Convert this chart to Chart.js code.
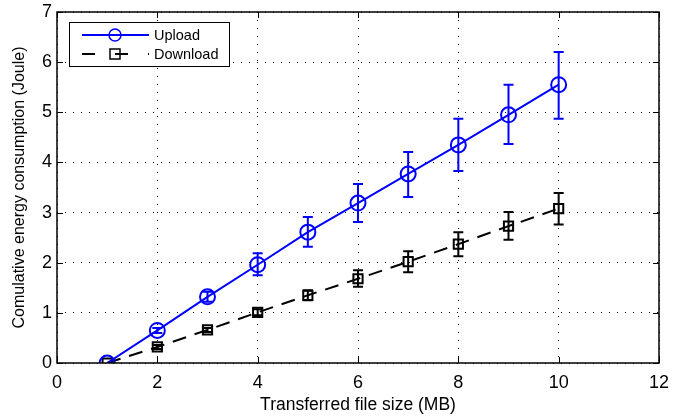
<!DOCTYPE html>
<html>
<head>
<meta charset="utf-8">
<script src="https://cdn.jsdelivr.net/npm/chart.js@4.4.1/dist/chart.umd.min.js"></script>
<style>
  body { margin: 0; background: #fff; }
  #wrap { width: 684px; height: 416px; }
</style>
</head>
<body>
<div id="wrap"><canvas id="myChart" width="684" height="416"></canvas></div>
<script>
// Data
const fileSizes = [1, 2, 3, 4, 5, 6, 7, 8, 9, 10];
const uploadMean = [0, 0.65, 1.32, 1.96, 2.61, 3.19, 3.77, 4.35, 4.95, 5.55];
const uploadLow  = [0, 0.60, 1.22, 1.75, 2.32, 2.81, 3.31, 3.83, 4.37, 4.87];
const uploadHigh = [0, 0.70, 1.42, 2.19, 2.91, 3.57, 4.21, 4.87, 5.55, 6.20];
const downloadMean = [0, 0.32, 0.66, 1.01, 1.35, 1.68, 2.02, 2.37, 2.73, 3.08];
const downloadLow  = [0, 0.28, 0.62, 0.95, 1.25, 1.52, 1.81, 2.13, 2.46, 2.76];
const downloadHigh = [0, 0.36, 0.70, 1.07, 1.45, 1.85, 2.23, 2.61, 3.01, 3.39];
const xTicks = [0, 2, 4, 6, 8, 10, 12];
const yTicks = [0, 1, 2, 3, 4, 5, 6, 7];

const FONT = 'Liberation Sans, Arial, Helvetica, sans-serif';
const DOWN_DASH = [14, 9];

function toPoints(ys) {
    return fileSizes.map((x, i) => ({ x: x, y: ys[i] }));
}

// Error bars, box, inward ticks and legend in MATLAB style
const matlabStyle = {
    id: 'matlabStyle',
    afterDatasetsDraw(chart) {
        const ctx = chart.ctx;
        const xs = chart.scales.x;
        const ys = chart.scales.y;
        const area = chart.chartArea;

        // error bars
        const bars = [
            { low: uploadLow, high: uploadHigh, color: '#0000ff' },
            { low: downloadLow, high: downloadHigh, color: '#000000' }
        ];
        ctx.save();
        ctx.lineWidth = 2;
        bars.forEach(b => {
            ctx.strokeStyle = b.color;
            fileSizes.forEach((x, i) => {
                const px = xs.getPixelForValue(x);
                const top = ys.getPixelForValue(b.high[i]);
                const bot = ys.getPixelForValue(b.low[i]);
                if (bot - top < 1) return;
                ctx.beginPath();
                ctx.moveTo(px, top); ctx.lineTo(px, bot);
                ctx.moveTo(px - 5, top); ctx.lineTo(px + 5, top);
                ctx.moveTo(px - 5, bot); ctx.lineTo(px + 5, bot);
                ctx.stroke();
            });
        });
        ctx.restore();

        // box and inward ticks
        ctx.save();
        ctx.strokeStyle = '#000';
        ctx.lineWidth = 1.5;
        ctx.strokeRect(area.left, area.top, area.right - area.left, area.bottom - area.top);
        ctx.lineWidth = 1;
        ctx.beginPath();
        xTicks.forEach(v => {
            const px = Math.round(xs.getPixelForValue(v)) + 0.5;
            ctx.moveTo(px, area.bottom); ctx.lineTo(px, area.bottom - 6);
            ctx.moveTo(px, area.top); ctx.lineTo(px, area.top + 6);
        });
        yTicks.forEach(v => {
            const py = Math.round(ys.getPixelForValue(v)) + 0.5;
            ctx.moveTo(area.left, py); ctx.lineTo(area.left + 6, py);
            ctx.moveTo(area.right, py); ctx.lineTo(area.right - 6, py);
        });
        ctx.stroke();

        // legend box
        const lx = area.left + 12, ly = area.top + 10, lw = 160, lh = 44;
        ctx.fillStyle = '#fff';
        ctx.fillRect(lx, ly, lw, lh);
        ctx.lineWidth = 1;
        ctx.strokeRect(lx + 0.5, ly + 0.5, lw, lh);

        const entries = [
            { text: 'Upload', color: '#0000ff', dash: [], marker: 'circle' },
            { text: 'Download', color: '#000000', dash: [13, 20], marker: 'square' }
        ];
        entries.forEach((e, i) => {
            const cy = ly + 13 + i * 19;
            ctx.strokeStyle = e.color;
            ctx.lineWidth = 2;
            ctx.setLineDash(e.dash);
            ctx.beginPath();
            ctx.moveTo(lx + 13, cy); ctx.lineTo(lx + 80, cy);
            ctx.stroke();
            ctx.setLineDash([]);
            ctx.lineWidth = 1.5;
            ctx.beginPath();
            if (e.marker === 'circle') {
                ctx.arc(lx + 46, cy, 6, 0, Math.PI * 2);
            } else {
                ctx.rect(lx + 41, cy - 5, 10, 10);
            }
            ctx.stroke();
            ctx.fillStyle = '#000';
            ctx.font = '14.5px ' + FONT;
            ctx.textBaseline = 'middle';
            ctx.textAlign = 'left';
            ctx.fillText(e.text, lx + 85, cy + 1);
        });
        ctx.restore();
    }
};

const ctx = document.getElementById('myChart').getContext('2d');
new Chart(ctx, {
    type: 'line',
    data: {
        datasets: [
            {
                label: 'Upload',
                data: toPoints(uploadMean),
                borderColor: '#0000ff',
                borderWidth: 2,
                pointStyle: 'circle',
                pointRadius: 7.5,
                pointBorderWidth: 2,
                pointBorderColor: '#0000ff',
                pointBackgroundColor: 'rgba(0,0,0,0)',
                fill: false,
                tension: 0
            },
            {
                label: 'Download',
                data: toPoints(downloadMean),
                borderColor: '#000000',
                borderWidth: 2,
                borderDash: DOWN_DASH,
                pointStyle: 'rect',
                pointRadius: 6.5,
                pointBorderWidth: 2,
                pointBorderColor: '#000000',
                pointBackgroundColor: 'rgba(0,0,0,0)',
                fill: false,
                tension: 0
            }
        ]
    },
    options: {
        responsive: false,
        animation: false,
        devicePixelRatio: 1,
        layout: { padding: { left: 10, right: 25, top: 12, bottom: 0 } },
        plugins: {
            legend: { display: false },
            tooltip: { enabled: false }
        },
        scales: {
            x: {
                type: 'linear',
                min: 0,
                max: 12,
                afterBuildTicks: s => { s.ticks = xTicks.map(v => ({ value: v })); },
                afterFit: s => { s.height = 53; s.paddingLeft = 0; s.paddingRight = 0; },
                grid: {
                    color: '#000',
                    lineWidth: 1,
                    drawTicks: false
                },
                border: { display: false, dash: [1, 7] },
                ticks: {
                    color: '#000',
                    padding: 9,
                    font: { family: FONT, size: 18 },
                    maxRotation: 0
                },
                title: {
                    display: true,
                    text: 'Transferred file size (MB)',
                    color: '#000',
                    font: { family: FONT, size: 17.5 },
                    padding: { top: 0, bottom: 0 }
                }
            },
            y: {
                type: 'linear',
                min: 0,
                max: 7,
                afterBuildTicks: s => { s.ticks = yTicks.map(v => ({ value: v })); },
                afterFit: s => { s.width = 47; s.paddingTop = 0; s.paddingBottom = 0; },
                grid: {
                    color: '#000',
                    lineWidth: 1,
                    drawTicks: false
                },
                border: { display: false, dash: [1, 7] },
                ticks: {
                    color: '#000',
                    padding: 5,
                    font: { family: FONT, size: 18 }
                },
                title: {
                    display: true,
                    text: 'Comulative energy consumption (Joule)',
                    color: '#000',
                    font: { family: FONT, size: 16 },
                    padding: { top: 0, bottom: 0 }
                }
            }
        }
    },
    plugins: [matlabStyle]
});
</script>
</body>
</html>
